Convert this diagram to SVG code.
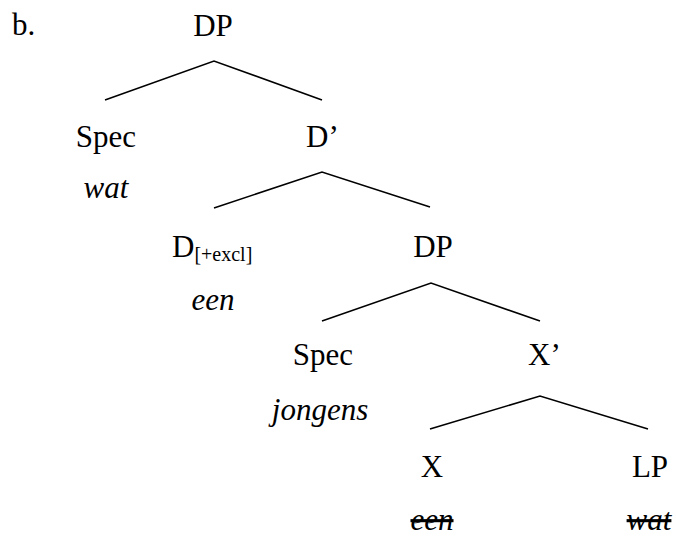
<svg xmlns="http://www.w3.org/2000/svg" width="676" height="536" viewBox="0 0 676 536">
<style>
text{font-family:"Liberation Serif","Times New Roman",serif;font-size:31px;fill:#000}
.c{text-anchor:middle}
.i{font-style:italic}
.sub{font-size:20px}
.s{text-decoration:line-through}
.e{fill:none;stroke:#000;stroke-width:1.6}
</style>
<rect width="676" height="536" fill="#fff"/>
<text x="12" y="35">b.</text>
<g id="connectors">
<polyline class="e" points="105,100 214,61 322,100"/>
<polyline class="e" points="214,208 322,172 430,207"/>
<polyline class="e" points="322,321 431,283 540,321"/>
<polyline class="e" points="430,429 540,396 648,429"/>
</g>
<g id="n-dp1"><text class="c" x="213" y="36">DP</text></g>
<g id="n-spec1"><text class="c" x="106" y="147">Spec</text><text class="c i" x="106" y="198">wat</text></g>
<g id="n-dbar"><text x="306" y="147">D’</text></g>
<g id="n-d"><text x="172" y="257">D<tspan class="sub" dy="4">[+excl]</tspan></text><text class="c i" x="213" y="310">een</text></g>
<g id="n-dp2"><text class="c" x="433" y="257">DP</text></g>
<g id="n-spec2"><text class="c" x="323" y="365">Spec</text><text class="c i" x="320" y="420">jongens</text></g>
<g id="n-xbar"><text x="528" y="365">X’</text></g>
<g id="n-x"><text class="c" x="432" y="477">X</text><text class="c i s" x="432" y="530">een</text></g>
<g id="n-lp"><text class="c" x="650" y="477">LP</text><text class="c i s" x="649" y="530">wat</text></g>
</svg>
